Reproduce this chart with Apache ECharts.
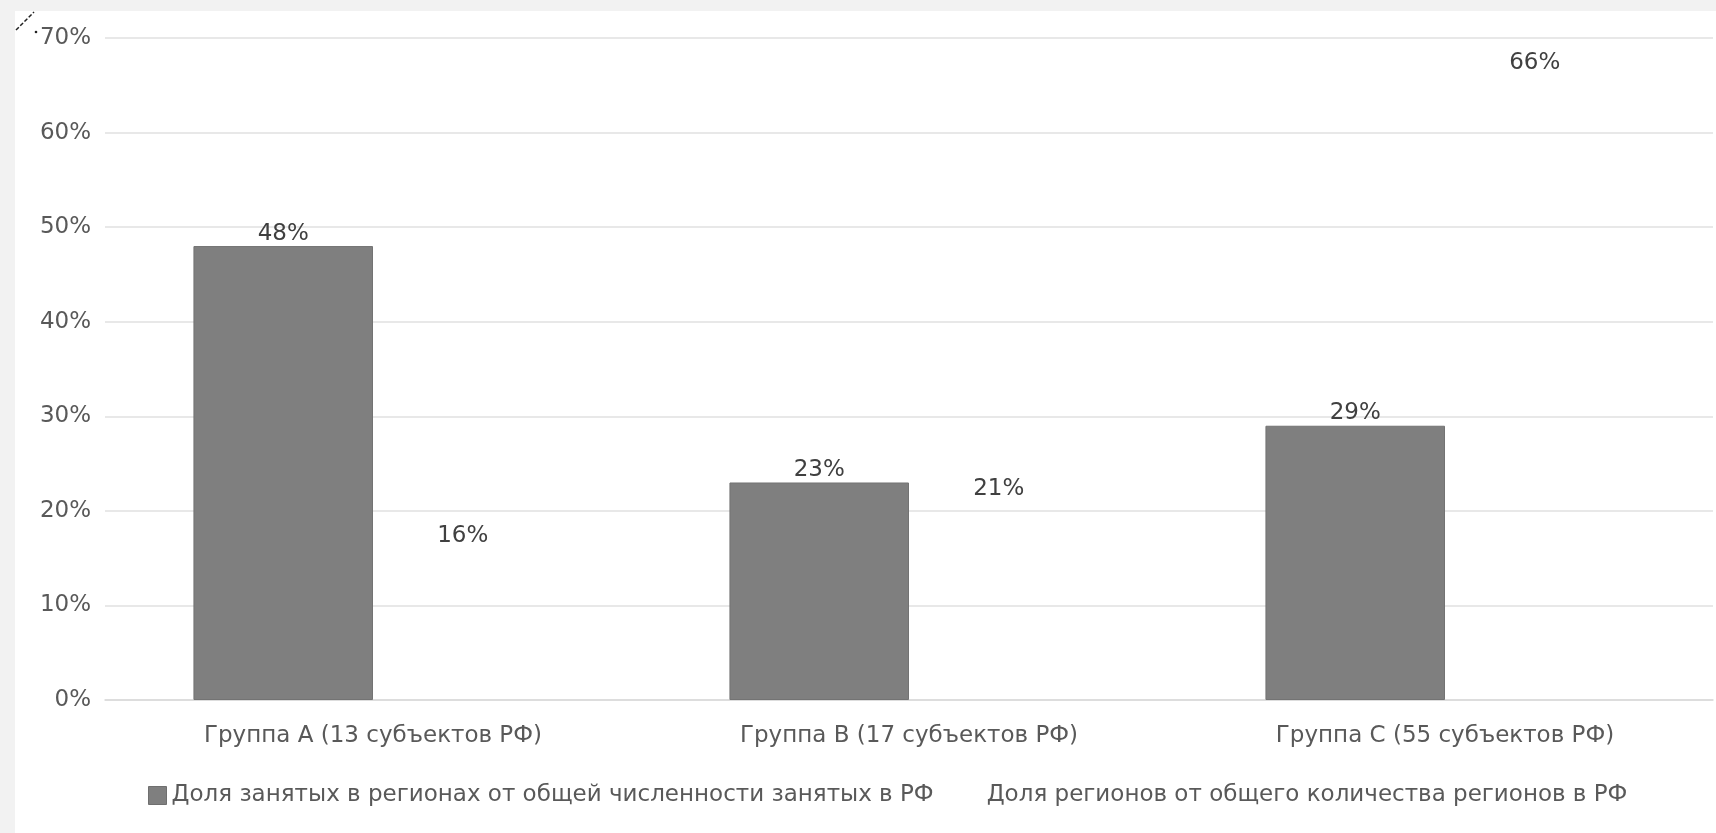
<!DOCTYPE html>
<html><head><meta charset="utf-8">
<script src="https://cdn.jsdelivr.net/npm/echarts@6/dist/echarts.min.js"></script>
<style>
html,body{margin:0;padding:0;background:#f2f2f2;width:1716px;height:833px;overflow:hidden}
#c{position:absolute;left:15px;top:11px;width:1701px;height:822px;background:#fff}
</style></head><body><div id="c"></div>
<script>
const categories = ['Группа А (13 субъектов РФ)', 'Группа В (17 субъектов РФ)', 'Группа С (55 субъектов РФ)'];
const seriesNames = ['Доля занятых в регионах от общей численности занятых в РФ', 'Доля регионов от общего количества регионов в РФ'];
const employedShare = [48, 23, 29];
const regionsShare = [16, 21, 66];
const yTicks = [0, 10, 20, 30, 40, 50, 60, 70];

const FONT = 'DejaVu Sans';
const FS = 23;
const chart = echarts.init(document.getElementById('c'));
chart.setOption({
  animation: false,
  textStyle: {fontFamily: FONT},
  grid: {left: 90, right: 3, top: 27, bottom: 133, containLabel: false},
  legend: {
    bottom: 21, left: 128, itemWidth: 18, itemHeight: 18, itemGap: 30, icon: 'rect',
    textStyle: {color: '#595959', fontSize: FS, fontFamily: FONT},
    data: [
      {name: seriesNames[0], itemStyle: {color: '#7f7f7f', borderColor: '#6f6f6f', borderWidth: 1}},
      {name: seriesNames[1], itemStyle: {color: 'rgba(255,255,255,0)'}}
    ]
  },
  xAxis: {
    type: 'category', data: categories,
    axisLine: {lineStyle: {color: '#d9d9d9', width: 1.5}}, axisTick: {show: false},
    axisLabel: {color: '#595959', fontSize: FS, margin: 25}
  },
  yAxis: {
    type: 'value', min: yTicks[0], max: yTicks[yTicks.length - 1], interval: 10,
    axisLine: {show: false}, axisTick: {show: false},
    axisLabel: {color: '#595959', fontSize: FS, margin: 14, formatter: v => v + '%'},
    splitLine: {lineStyle: {color: '#e0e0e0', width: 1.5}}
  },
  series: [
    {
      name: seriesNames[0], type: 'bar', data: employedShare,
      barGap: '0%', barCategoryGap: '33%',
      itemStyle: {color: '#7f7f7f', borderColor: '#737373', borderWidth: 1},
      label: {show: true, position: 'top', distance: 1, color: '#404040', fontSize: FS, formatter: p => p.value + '%'}
    },
    {
      name: seriesNames[1], type: 'bar', data: regionsShare,
      itemStyle: {color: 'rgba(255,255,255,0)'},
      label: {show: true, position: 'top', distance: 1, color: '#404040', fontSize: FS, formatter: p => p.value + '%'}
    }
  ],
  graphic: [
    {type: 'line', shape: {x1: 1, y1: 19, x2: 19, y2: 1}, style: {stroke: '#222', lineWidth: 1.5, lineDash: [4, 2]}},
    {type: 'circle', shape: {cx: 21, cy: 21, r: 1.3}, style: {fill: '#222'}}
  ]
});
</script></body></html>
